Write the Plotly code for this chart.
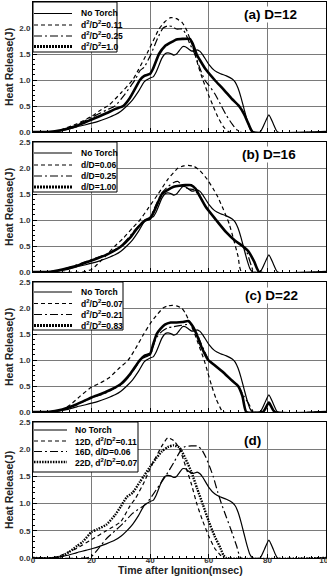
import plotly.graph_objects as go

# ---------------- data ----------------
t_nt = [0, 5, 8, 10, 12, 15, 18, 20, 22, 25, 28, 30, 32, 34, 36, 38, 40, 41, 42, 44, 45, 46, 47, 48, 49, 50, 51, 52, 53, 54, 55, 56, 57, 58, 60, 62, 64, 66, 68, 69, 70, 71, 72, 73, 74, 75, 77.5, 79, 80.5, 82, 83.5, 100]
v_nt = [0, 0, 0.01, 0.03, 0.05, 0.1, 0.14, 0.17, 0.2, 0.26, 0.33, 0.4, 0.5, 0.62, 0.78, 0.97, 1.04, 1.06, 1.15, 1.42, 1.5, 1.52, 1.51, 1.48, 1.5, 1.57, 1.64, 1.64, 1.6, 1.56, 1.56, 1.58, 1.55, 1.48, 1.3, 1.18, 1.12, 1.08, 1.02, 0.96, 0.84, 0.66, 0.45, 0.24, 0.07, 0, 0, 0.16, 0.33, 0.16, 0, 0]

# panel (a) D=12
t_a011 = [0, 7, 10, 15, 20, 23, 26, 30, 34, 36, 39, 41, 43, 45, 47, 49, 51, 52.5, 54, 55.3, 56.5, 58, 60, 61.5, 63, 65, 67, 100]
v_a011 = [0, 0, 0.05, 0.16, 0.3, 0.42, 0.52, 0.75, 1.0, 1.2, 1.52, 1.75, 1.98, 2.12, 2.2, 2.18, 2.1, 1.95, 1.72, 1.5, 1.25, 1.0, 0.7, 0.5, 0.3, 0.1, 0, 0]
t_a025 = [0, 7, 10, 15, 20, 25, 28, 31, 34.8, 36.5, 38, 40.3, 42.5, 44.4, 46, 47.5, 49, 51, 52, 53.5, 55.2, 57, 58.6, 60, 62, 64.3, 66, 68, 70.5, 100]
v_a025 = [0, 0, 0.04, 0.14, 0.28, 0.42, 0.5, 0.7, 1.0, 1.18, 1.25, 1.5, 1.8, 2.0, 2.04, 2.03, 1.98, 1.98, 1.9, 1.7, 1.5, 1.22, 1.0, 0.9, 0.74, 0.5, 0.32, 0.15, 0, 0]
t_a10 = [0, 5, 10, 15, 20, 25, 28, 30.8, 33, 35, 36.5, 38, 40, 41, 43, 45, 47, 49, 51, 53.5, 54.5, 55.8, 57, 59, 62, 65, 68, 70.3, 72, 73.5, 75, 100]
v_a10 = [0, 0, 0.04, 0.12, 0.24, 0.36, 0.44, 0.5, 0.65, 0.85, 1.0, 1.08, 1.12, 1.22, 1.5, 1.65, 1.72, 1.78, 1.79, 1.79, 1.7, 1.5, 1.38, 1.2, 1.0, 0.82, 0.63, 0.5, 0.35, 0.16, 0, 0]

# panel (b) D=16
t_b006 = [0, 17, 20, 22, 25, 28, 31, 34, 36.5, 39, 42.7, 46, 49.5, 51.5, 53, 55, 57, 59.5, 61.5, 63, 65, 67, 68.5, 70, 71.2, 100]
v_b006 = [0, 0, 0.05, 0.15, 0.32, 0.5, 0.66, 0.85, 1.0, 1.2, 1.5, 1.78, 2.0, 2.04, 2.05, 2.03, 1.95, 1.78, 1.6, 1.45, 1.2, 0.92, 0.62, 0.3, 0, 0]
t_b025 = [0, 5, 10, 15, 20, 25, 30, 35, 38, 40, 42, 44, 46, 48, 49.5, 51, 53, 55, 57, 59, 62.5, 66, 69, 71.5, 73, 74.5, 75.5, 100]
v_b025 = [0, 0, 0.05, 0.14, 0.24, 0.34, 0.5, 0.82, 1.0, 1.06, 1.3, 1.52, 1.64, 1.72, 1.74, 1.65, 1.6, 1.58, 1.45, 1.25, 1.0, 0.76, 0.6, 0.5, 0.38, 0.12, 0, 0]
t_b100 = [0, 5, 10, 15, 20, 25, 30, 33, 35, 38, 40, 42, 44, 46, 48, 50, 52, 54, 55.5, 57, 59, 62.5, 66, 69, 71.5, 73.5, 75.5, 77.2, 100]
v_b100 = [0, 0, 0.05, 0.12, 0.22, 0.33, 0.49, 0.65, 0.8, 0.98, 1.03, 1.25, 1.5, 1.58, 1.64, 1.66, 1.67, 1.67, 1.6, 1.45, 1.25, 1.0, 0.76, 0.6, 0.5, 0.4, 0.2, 0, 0]

# panel (c) D=22
t_c007 = [0, 7, 10, 13, 16, 20, 23, 26, 29, 32.5, 35, 37.8, 40, 42, 44.4, 46, 47.5, 49, 50.7, 52, 53.5, 55.2, 56.8, 58.4, 59.7, 61, 62.5, 64, 64.8, 100]
v_c007 = [0, 0, 0.04, 0.15, 0.3, 0.48, 0.56, 0.66, 0.82, 1.0, 1.22, 1.5, 1.7, 1.85, 2.0, 2.04, 2.05, 2.04, 2.0, 1.9, 1.72, 1.5, 1.25, 1.0, 0.75, 0.5, 0.25, 0.07, 0, 0]
t_c021 = [0, 5, 10, 15, 20, 25, 30, 33, 36.5, 38, 40, 42, 44, 46, 48, 50, 52, 54, 55.8, 57.5, 60, 62, 65, 68, 70, 72, 73.5, 75.5, 100]
v_c021 = [0, 0, 0.05, 0.15, 0.27, 0.37, 0.52, 0.7, 0.98, 1.05, 1.1, 1.42, 1.55, 1.62, 1.64, 1.66, 1.68, 1.68, 1.52, 1.3, 1.0, 0.9, 0.76, 0.6, 0.5, 0.3, 0.17, 0, 0]
t_c083 = [0, 5, 10, 15, 20, 25, 30, 33, 36.5, 38, 40, 41, 42.2, 43.5, 45, 47, 49, 51, 53, 54.5, 55.8, 57.5, 59.8, 62, 65, 68, 70, 71.5, 72.8, 78.5, 80.5, 82.5, 100]
v_c083 = [0, 0, 0.05, 0.15, 0.28, 0.39, 0.54, 0.72, 1.0, 1.08, 1.12, 1.3, 1.5, 1.6, 1.68, 1.72, 1.72, 1.73, 1.75, 1.65, 1.5, 1.25, 1.0, 0.9, 0.76, 0.6, 0.5, 0.3, 0, 0, 0.18, 0, 0]

# panel (d) comparison
t_d12 = [0, 7, 10, 15, 20, 25, 30, 33, 35, 38, 40, 42, 44, 46, 48, 50, 52, 54, 56, 58, 60, 62, 64, 65, 100]
v_d12 = [0, 0, 0.06, 0.18, 0.34, 0.5, 0.67, 0.95, 1.1, 1.4, 1.65, 1.86, 2.06, 2.21, 2.16, 2.01, 1.7, 1.37, 0.98, 0.67, 0.4, 0.18, 0.05, 0, 0]
t_d16 = [0, 18, 20, 22, 25, 28, 31, 34, 38.7, 42, 45.2, 48, 50.7, 52, 54, 56, 57.5, 59, 60.5, 61.5, 63, 64.3, 66, 67.7, 69.5, 71, 100]
v_d16 = [0, 0, 0.03, 0.15, 0.35, 0.5, 0.65, 0.82, 1.0, 1.25, 1.5, 1.75, 2.0, 2.05, 2.06, 2.06, 2.0, 1.85, 1.65, 1.5, 1.22, 1.0, 0.75, 0.5, 0.22, 0, 0]
t_d22 = [0, 7, 10, 12.6, 15, 17, 20, 22, 25, 28, 30, 32, 34, 36.5, 38, 40, 42, 44, 46, 48, 50, 52, 54, 56, 58, 60, 62, 64, 65, 66, 100]
v_d22 = [0, 0, 0.04, 0.12, 0.22, 0.3, 0.48, 0.53, 0.61, 0.79, 0.95, 1.12, 1.2, 1.4, 1.52, 1.68, 1.83, 1.96, 2.04, 2.07, 2.03, 1.83, 1.59, 1.28, 0.98, 0.67, 0.4, 0.18, 0.05, 0, 0]

x_ticks = [0, 20, 40, 60, 80, 100]
y_ticks = [0.0, 0.5, 1.0, 1.5, 2.0, 2.5]
panel_titles = ["(a) D=12", "(b) D=16", "(c) D=22", "(d)"]

# ---------------- styles ----------------
S_NT = dict(color="black", width=1.2)
S_DASH = dict(color="black", width=1.2, dash="4px,3px")
S_DD = dict(color="black", width=1.2, dash="8px,3px,2px,3px")
S_THICK = dict(color="black", width=2.6)
S_DOT = dict(color="black", width=2.4, dash="1.5px,1.2px")
L_THICK = dict(color="black", width=3.2, dash="2px,1px")

panels = [
    dict(series=[("No Torch", t_nt, v_nt, S_NT, S_NT),
                 ("d<sup>2</sup>/D<sup>2</sup>=0.11", t_a011, v_a011, S_DASH, S_DASH),
                 ("d<sup>2</sup>/D<sup>2</sup>=0.25", t_a025, v_a025, S_DD, S_DD),
                 ("d<sup>2</sup>/D<sup>2</sup>=1.0", t_a10, v_a10, S_THICK, L_THICK)],
         px=(2, 132), rows=[11.5, 23, 34, 44.5], box=(117, 50), lx=72, tx=79, title_xy=(270, 15)),
    dict(series=[("No Torch", t_nt, v_nt, S_NT, S_NT),
                 ("d/D=0.06", t_b006, v_b006, S_DASH, S_DASH),
                 ("d/D=0.25", t_b025, v_b025, S_DD, S_DD),
                 ("d/D=1.00", t_b100, v_b100, S_THICK, L_THICK)],
         px=(142, 272), rows=[11, 23, 34, 45], box=(117, 50), lx=72, tx=79, title_xy=(269, 155)),
    dict(series=[("No Torch", t_nt, v_nt, S_NT, S_NT),
                 ("d<sup>2</sup>/D<sup>2</sup>=0.07", t_c007, v_c007, S_DASH, S_DASH),
                 ("d<sup>2</sup>/D<sup>2</sup>=0.21", t_c021, v_c021, S_DD, S_DD),
                 ("d<sup>2</sup>/D<sup>2</sup>=0.83", t_c083, v_c083, S_THICK, L_THICK)],
         px=(282, 412), rows=[10, 21.5, 32.5, 43.5], box=(123, 48), lx=72, tx=79, title_xy=(271, 295)),
    dict(series=[("No Torch", t_nt, v_nt, S_NT, S_NT),
                 ("12D, d<sup>2</sup>/D<sup>2</sup>=0.11", t_d12, v_d12, S_DASH, S_DASH),
                 ("16D, d/D=0.06", t_d16, v_d16, S_DD, S_DD),
                 ("22D, d<sup>2</sup>/D<sup>2</sup>=0.07", t_d22, v_d22, S_DOT, S_DOT)],
         px=(422, 558), rows=[8, 19, 29.5, 40], box=(138, 50), lx=67, tx=73, title_xy=(252, 440)),
]

# ---------------- geometry ----------------
W, H = 327, 578
ML, MR, MT, MB = 33, 1, 2, 20
PW = W - ML - MR
PH = H - MT - MB


def fx(px):
    return (px - ML) / PW


def fy(py):
    return (H - MB - py) / PH


fig = go.Figure()
shapes = []
annotations = []
FONT = "Arial"

for i, p in enumerate(panels, start=1):
    xa = "x" if i == 1 else f"x{i}"
    ya = "y" if i == 1 else f"y{i}"
    for name, t, v, style, _ in p["series"]:
        fig.add_trace(go.Scatter(x=t, y=v, mode="lines", name=name, xaxis=xa, yaxis=ya,
                                 line=dict(shape="spline", smoothing=0.5, **style),
                                 showlegend=False, hoverinfo="skip"))
    top, bot = p["px"]
    last = (i == 4)
    fig.layout[f"xaxis{'' if i == 1 else i}"] = dict(
        domain=[0, 1], anchor=ya, range=[0, 100], tickvals=x_ticks,
        showticklabels=last, ticks="inside", ticklen=4, tickcolor="black",
        minor=dict(ticks="inside", ticklen=2, dtick=2.5, tickcolor="black"),
        showgrid=True, gridcolor="#7a7a7a", gridwidth=0.8,
        showline=True, linecolor="black", linewidth=1, mirror=True, zeroline=False,
        tickfont=dict(family=FONT, size=8, color="#333", weight="bold"),
        ticklabeloverflow="allow", ticklabelstandoff=-6,
        automargin=False, **({} if i == 1 else dict(matches="x")))
    fig.layout[f"yaxis{'' if i == 1 else i}"] = dict(
        domain=[fy(bot), fy(top)], anchor=xa, range=[0, 2.5], tickvals=y_ticks,
        ticktext=[f"{v:.1f}" for v in y_ticks],
        ticks="inside", ticklen=4, tickcolor="black",
        minor=dict(ticks="inside", ticklen=2, dtick=0.1, tickcolor="black"),
        showgrid=True, gridcolor="#7a7a7a", gridwidth=0.8,
        showline=True, linecolor="black", linewidth=1, mirror=True, zeroline=False,
        tickfont=dict(family=FONT, size=8, color="#333", weight="bold"),
        automargin=False)

    # y title
    annotations.append(dict(text="Heat Release(J)", xref="paper", yref="paper",
                            x=fx(9), y=fy((top + bot) / 2), textangle=-90, showarrow=False,
                            xanchor="center", yanchor="middle",
                            font=dict(family=FONT, size=10.5, color="#222", weight="bold")))
    # panel title
    tx_, ty_ = p["title_xy"]
    annotations.append(dict(text=panel_titles[i - 1], xref="paper", yref="paper",
                            x=fx(tx_), y=fy(ty_), showarrow=False, xanchor="center",
                            yanchor="middle", bgcolor="white", borderpad=0,
                            font=dict(family=FONT, size=13.5, color="black", weight="bold")))
    # legend box
    bx, bb = p["box"]
    shapes.append(dict(type="rect", xref="paper", yref="paper", x0=fx(ML), x1=fx(bx),
                       y0=fy(top + bb), y1=fy(top), line=dict(color="black", width=1),
                       fillcolor="white", layer="above"))
    for (name, _, _, _, lstyle), r in zip(p["series"], p["rows"]):
        shapes.append(dict(type="line", xref="paper", yref="paper", x0=fx(ML + 1), x1=fx(p["lx"]),
                           y0=fy(top + r), y1=fy(top + r), line=lstyle, layer="above"))
        annotations.append(dict(text=name, xref="paper", yref="paper", x=fx(p["tx"]),
                                y=fy(top + r), showarrow=False, xanchor="left", yanchor="middle",
                                font=dict(family=FONT, size=8.5, color="black", weight="bold")))

annotations.append(dict(text="Time after Ignition(msec)", xref="paper", yref="paper",
                        x=fx(180), y=fy(578), showarrow=False, xanchor="center", yanchor="bottom",
                        font=dict(family=FONT, size=10.5, color="#222", weight="bold")))

fig.update_layout(width=W, height=H, margin=dict(l=ML, r=MR, t=MT, b=MB),
                  paper_bgcolor="white", plot_bgcolor="white", showlegend=False,
                  shapes=shapes, annotations=annotations, template="none")

fig.write_html("out.html")
